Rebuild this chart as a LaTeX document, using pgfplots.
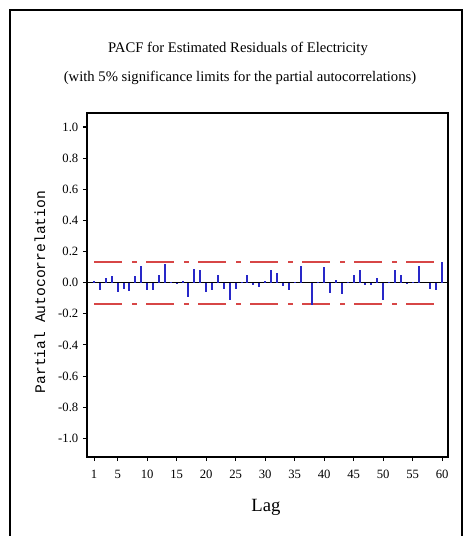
\documentclass[border=0pt]{standalone}
\usepackage{pgfplots}
\pgfplotsset{compat=1.18}
\usepackage{pgfplotstable}
\usepackage{fontspec}
\setmainfont{Liberation Serif}
\newfontfamily\labelmono{Liberation Mono}

\definecolor{pacfblue}{RGB}{40,40,200}
\definecolor{limitred}{RGB}{215,70,70}

% Partial autocorrelations of the residuals, lags 1..60
\pgfplotstableread{
lag pacf
1 0.01
2 -0.05
3 0.03
4 0.04
5 -0.06
6 -0.04
7 -0.055
8 0.04
9 0.11
10 -0.05
11 -0.05
12 0.05
13 0.12
14 0.005
15 -0.01
16 0.01
17 -0.09
18 0.09
19 0.08
20 -0.06
21 -0.05
22 0.05
23 -0.04
24 -0.11
25 -0.04
26 0.005
27 0.05
28 -0.015
29 -0.03
30 0.01
31 0.08
32 0.06
33 -0.02
34 -0.05
35 0.005
36 0.11
37 0.0
38 -0.145
39 0.005
40 0.10
41 -0.065
42 0.02
43 -0.075
44 0.005
45 0.05
46 0.08
47 -0.015
48 -0.015
49 0.03
50 -0.11
51 0.005
52 0.08
53 0.05
54 -0.005
55 0.005
56 0.11
57 0.0
58 -0.04
59 -0.05
60 0.13
}\pacfdata

\begin{document}
\begin{tikzpicture}
\useasboundingbox (0,0) rectangle (348pt,402pt);
\clip (0,0) rectangle (348pt,402pt);
% frame round the graph
\draw[line width=0.9pt] (7.5pt,-5pt) -- (7.5pt,394.5pt) -- (346.5pt,394.5pt) -- (346.5pt,-5pt);

\node[font=\fontsize{11}{13}\selectfont] at (178.5pt,365.25pt) {PACF for Estimated Residuals of Electricity};
\node[font=\fontsize{11}{13}\selectfont] at (180pt,343.5pt) {(with 5\% significance limits for the partial autocorrelations)};
\node[font=\labelmono\fontsize{11}{13}\selectfont, rotate=90] at (30pt,183pt) {Partial Autocorrelation};
\node[font=\fontsize{14}{16}\selectfont] at (199.5pt,21.5pt) {Lag};

\begin{axis}[
  at={(65.25pt,59.25pt)}, anchor=south west,
  scale only axis, width=270.75pt, height=258pt,
  xmin=-0.2, xmax=61, ymin=-1.12, ymax=1.09,
  axis line style={line width=1pt},
  xtick={1,5,10,15,20,25,30,35,40,45,50,55,60},
  ytick={-1,-0.8,-0.6,-0.4,-0.2,0,0.2,0.4,0.6,0.8,1},
  yticklabel style={/pgf/number format/.cd, fixed, fixed zerofill, precision=1},
  xticklabel style={yshift=-3pt},
  /pgf/number format/assume math mode=true,
  tick align=outside, tick pos=left,
  major tick length=3pt,
  tick style={black, line width=0.8pt},
  ticklabel style={font=\fontsize{9.5}{11}\selectfont},
]
\addplot[black, line width=0.8pt] coordinates {(-0.2,0) (61,0)};
\addplot[limitred, line width=1.5pt, dash pattern=on 21pt off 7.5pt on 3.75pt off 6.75pt] coordinates {(1,0.135) (60,0.135)};
\addplot[limitred, line width=1.5pt, dash pattern=on 21pt off 7.5pt on 3.75pt off 6.75pt] coordinates {(1,-0.135) (60,-0.135)};
\addplot[ycomb, pacfblue, line width=1.5pt, mark=none] table[x=lag, y=pacf] {\pacfdata};
\end{axis}
\end{tikzpicture}
\end{document}
